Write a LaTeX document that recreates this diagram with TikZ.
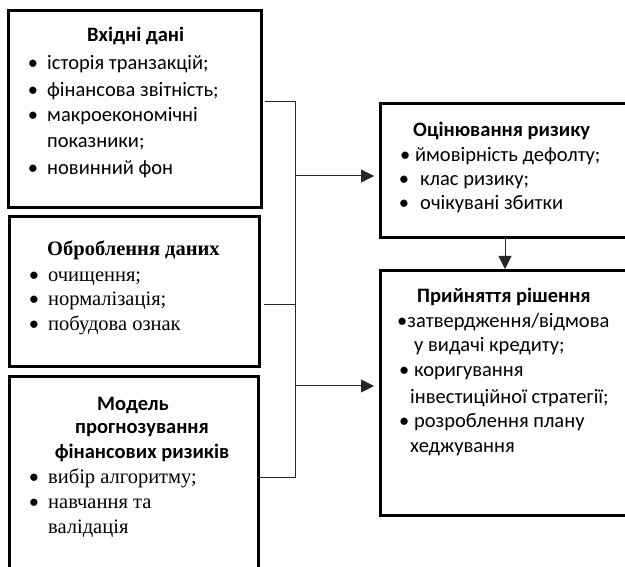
\documentclass[tikz,border=0pt]{standalone}
\usepackage{fontspec}
\setmainfont{Carlito}
\newfontfamily\calfont{Carlito}
\newfontfamily\serfont{Liberation Serif}
\usetikzlibrary{arrows.meta}
\tikzset{
  box/.style={draw=black, line width=3pt, anchor=north west, outer sep=0pt, inner sep=0pt},
  cal/.style={font=\calfont\fontsize{20.5}{24}\selectfont, anchor=base west, inner sep=0pt},
  calb/.style={font=\calfont\bfseries\fontsize{20.5}{24}\selectfont, anchor=base west, inner sep=0pt},
  ser/.style={font=\serfont\fontsize{20.5}{24}\selectfont, anchor=base west, inner sep=0pt},
  serb/.style={font=\serfont\bfseries\fontsize{20.5}{24}\selectfont, anchor=base west, inner sep=0pt},
  bul/.style={font=\calfont\fontsize{20.5}{24}\selectfont, anchor=base, inner sep=0pt},
  conn/.style={draw=black!85, line width=1pt},
  arr/.style={draw=black!85, line width=1pt, -{Triangle[length=13pt,width=13pt]}}
}
\begin{document}
\begin{tikzpicture}[x=1pt,y=-1pt]
\useasboundingbox (0,0) rectangle (625,567);
\clip (0,0) rectangle (625,567);
% boxes
\node[box, minimum width=253pt, minimum height=197pt] (b1) at (8,11) {};
\node[box, minimum width=250pt, minimum height=150pt] (b2) at (9,217) {};
\node[box, minimum width=249pt, minimum height=230pt] (b3) at (9,377) {};
\node[box, minimum width=260pt, minimum height=134pt] (b4) at (380,104) {};
\node[box, minimum width=260pt, minimum height=244pt] (b5) at (380,271) {};
% box 1 text
\node[calb] (t1) at (87,42) {Вхідні дані};
\node[bul] (t1a) at (33,70) {•};
\node[cal] (t1b) at (47,70) {історія транзакцій;};
\node[bul] (t1c) at (33,97) {•};
\node[cal] (t1d) at (47,97) {фінансова звітність;};
\node[bul] (t1e) at (33,122) {•};
\node[cal] (t1f) at (47,122) {макроекономічні};
\node[cal] (t1g) at (47,148) {показники;};
\node[bul] (t1h) at (33,175) {•};
\node[cal] (t1i) at (47,175) {новинний фон};
% box 2 text
\node[serb] (t2) at (47,256) {Оброблення даних};
\node[bul] (t2a) at (34,282) {•};
\node[ser] (t2b) at (48,282) {очищення;};
\node[bul] (t2c) at (34,306) {•};
\node[ser] (t2d) at (48,306) {нормалізація;};
\node[bul] (t2e) at (34,331) {•};
\node[ser] (t2f) at (48,331) {побудова ознак};
% box 3 text
\node[calb, anchor=base] (t3) at (133,410) {Модель};
\node[calb, anchor=base] (t3a) at (142,433) {прогнозування};
\node[calb, anchor=base] (t3b) at (142,458) {фінансових ризиків};
\node[bul] (t3c) at (34,483) {•};
\node[ser] (t3d) at (48,483) {вибір алгоритму;};
\node[bul] (t3e) at (34,508) {•};
\node[ser] (t3f) at (48,508) {навчання та};
\node[ser] (t3g) at (48,533) {валідація};
% box 4 text
\node[calb] (t4) at (413,137) {Оцінювання ризику};
\node[cal] (t4a) at (400,162) {• ймовірність дефолту;};
\node[bul] (t4b) at (404,186) {•};
\node[cal] (t4c) at (420,186) {клас ризику;};
\node[bul] (t4d) at (404,210) {•};
\node[cal] (t4e) at (420,210) {очікувані збитки};
% box 5 text
\node[calb] (t5) at (417,303) {Прийняття рішення};
\node[cal] (t5a) at (397,328) {•затвердження/відмова};
\node[cal] (t5b) at (414,352) {у видачі кредиту;};
\node[cal] (t5c) at (399,377) {• коригування};
\node[cal] (t5d) at (410,403) {інвестиційної стратегії;};
\node[cal] (t5e) at (399,428) {• розроблення плану};
\node[cal] (t5f) at (410,453) {хеджування};
% connectors
\coordinate (bt) at (295,102);
\coordinate (bm) at (295,305);
\coordinate (bb) at (295,477);
\coordinate (a1) at (295,176);
\coordinate (a2) at (295,386);
\coordinate (vx) at (505,0);
\draw[conn, shorten <=4pt] (b1.east |- bt) -- (bt) -- (bb) -- (b3.east |- bb);
\draw[conn, shorten <=5pt] (b2.east |- bm) -- (bm);
\draw[arr, shorten >=6pt] (a1) -- (b4.west |- a1);
\draw[arr, shorten >=6pt] (a2) -- (b5.west |- a2);
\draw[arr, shorten >=2pt] (b4.south -| vx) -- (b5.north -| vx);
\end{tikzpicture}
\end{document}
